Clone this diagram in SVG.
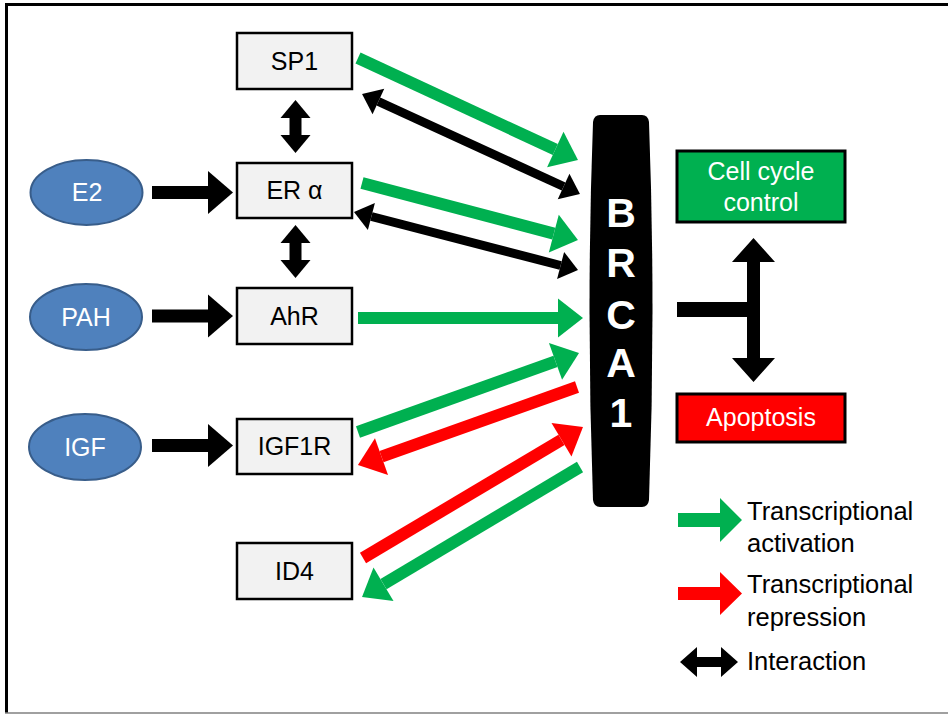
<svg xmlns="http://www.w3.org/2000/svg" width="948" height="715" viewBox="0 0 948 715">
<style>
text{font-family:"Liberation Sans",Arial,sans-serif;font-size:25px}
.box{fill:#F2F2F2;stroke:#000;stroke-width:2.5}
.ell{fill:#4F81BD;stroke:#385D8A;stroke-width:2}
.lbl{fill:#000;text-anchor:middle}
.wl{fill:#fff;text-anchor:middle}
.g{stroke:#00B050;stroke-width:12;fill:none;marker-end:url(#hg)}
.r{stroke:#FF0000;stroke-width:12;fill:none;marker-end:url(#hr)}
.k{stroke:#000;stroke-width:9;fill:none;marker-end:url(#hk);marker-start:url(#hk)}
.kv{stroke:#000;stroke-width:12;fill:none;marker-end:url(#hkv);marker-start:url(#hkv)}
.kin{stroke:#000;stroke-width:13;fill:none;marker-end:url(#hkin)}
.leg{fill:#000;font-size:25.5px}
</style>
<defs>
<marker id="hg" markerUnits="userSpaceOnUse" orient="auto" refX="0" refY="0" viewBox="0 -20 26 40" markerWidth="26" markerHeight="40" overflow="visible"><path d="M0,-19.5 L25,0 L0,19.5 Z" fill="#00B050"/></marker>
<marker id="hr" markerUnits="userSpaceOnUse" orient="auto" refX="0" refY="0" viewBox="0 -20 26 40" markerWidth="26" markerHeight="40" overflow="visible"><path d="M0,-19.5 L25,0 L0,19.5 Z" fill="#FF0000"/></marker>
<marker id="hk" markerUnits="userSpaceOnUse" orient="auto-start-reverse" refX="0" refY="0" viewBox="0 -15 19 30" markerWidth="19" markerHeight="30" overflow="visible"><path d="M0,-14 L18,0 L0,14 Z" fill="#000"/></marker>
<marker id="hkv" markerUnits="userSpaceOnUse" orient="auto-start-reverse" refX="0" refY="0" viewBox="0 -16 19 32" markerWidth="19" markerHeight="32" overflow="visible"><path d="M0,-15 L18,0 L0,15 Z" fill="#000"/></marker>
<marker id="hkin" markerUnits="userSpaceOnUse" orient="auto" refX="0" refY="0" viewBox="0 -22 26 44" markerWidth="26" markerHeight="44" overflow="visible"><path d="M0,-21.5 L25,0 L0,21.5 Z" fill="#000"/></marker>
</defs>
<rect x="0" y="0" width="948" height="715" fill="#fff"/>
<g id="frame">
<line x1="6.5" y1="3" x2="6.5" y2="713" stroke="#000" stroke-width="3"/>
<line x1="5" y1="4.5" x2="948" y2="4.5" stroke="#000" stroke-width="3"/>
<line x1="5" y1="713" x2="948" y2="713" stroke="#808080" stroke-width="1.5"/>
</g>
<g id="connectors">
<line class="kin" x1="152" y1="192.5" x2="208" y2="192.5"/>
<line class="kin" x1="152" y1="316" x2="208" y2="316"/>
<line class="kin" x1="152" y1="445.5" x2="208" y2="445.5"/>
<line class="kv" x1="295.5" y1="118" x2="295.5" y2="135"/>
<line class="kv" x1="295.5" y1="243" x2="295.5" y2="260"/>
<line class="g" x1="358" y1="58" x2="555.3" y2="149.5"/>
<line class="k" x1="378.4" y1="101.5" x2="563.6" y2="186.5"/>
<line class="g" x1="362" y1="183" x2="553.8" y2="233.6"/>
<line class="k" x1="371.4" y1="216.5" x2="560.6" y2="265.5"/>
<line class="g" x1="358" y1="318" x2="558" y2="318"/>
<line class="g" x1="358" y1="432" x2="555.5" y2="361.4"/>
<line class="r" x1="577" y1="387" x2="381.5" y2="456.6"/>
<line class="r" x1="363" y1="558" x2="561.5" y2="439.8"/>
<line class="g" x1="580" y1="467" x2="383.5" y2="584.2"/>
<path d="M677,302 H747 V262 H732 L753.5,238 L775,262 H760 V358 H775 L753.5,382 L732,358 H747 V317 H677 Z" fill="#000"/>
</g>
<g id="E2"><ellipse class="ell" cx="86.5" cy="192.5" rx="56" ry="32.5"/><text class="wl" x="87" y="201">E2</text></g>
<g id="PAH"><ellipse class="ell" cx="86" cy="317" rx="56" ry="33"/><text class="wl" x="86" y="326">PAH</text></g>
<g id="IGF"><ellipse class="ell" cx="85" cy="447" rx="56" ry="33"/><text class="wl" x="85" y="456">IGF</text></g>
<g id="SP1"><rect class="box" x="237" y="33" width="115" height="56"/><text class="lbl" x="294.5" y="70">SP1</text></g>
<g id="ERa"><rect class="box" x="237" y="163" width="115" height="55"/><text class="lbl" x="294.5" y="199">ER α</text></g>
<g id="AhR"><rect class="box" x="237" y="288" width="115" height="56"/><text class="lbl" x="294.5" y="325">AhR</text></g>
<g id="IGF1R"><rect class="box" x="237" y="419" width="115" height="55"/><text class="lbl" x="294.5" y="455">IGF1R</text></g>
<g id="ID4"><rect class="box" x="237" y="543" width="115" height="56"/><text class="lbl" x="294.5" y="580">ID4</text></g>
<g id="BRCA1">
<path d="M600,115 L642,115 Q648,115 649,122 Q656,311 649,500 Q648,507 642,507 L600,507 Q594,507 593,500 Q586,311 593,122 Q594,115 600,115 Z" fill="#000"/>
<g style="font-weight:bold;fill:#fff;text-anchor:middle">
<text x="621" y="227" style="font-size:41px">B</text>
<text x="621" y="277" style="font-size:41px">R</text>
<text x="621" y="329" style="font-size:41px">C</text>
<text x="621" y="377" style="font-size:41px">A</text>
<text x="621" y="427" style="font-size:41px">1</text>
</g>
</g>
<g id="CellCycle"><rect x="677" y="151" width="168" height="71" fill="#00B050" stroke="#000" stroke-width="3"/><text class="wl" x="761" y="180">Cell cycle</text><text class="wl" x="761" y="211">control</text></g>
<g id="Apoptosis"><rect x="677" y="394" width="168" height="48" fill="#FF0000" stroke="#000" stroke-width="3"/><text class="wl" x="761" y="426">Apoptosis</text></g>
<g id="legend">
<path d="M678,513 H720 V498 L742,520 L720,542 V527 H678 Z" fill="#00B050"/>
<text class="leg" x="747" y="520">Transcriptional</text>
<text class="leg" x="747" y="552">activation</text>
<path d="M678,587 H720 V572 L742,593.5 L720,615 V600 H678 Z" fill="#FF0000"/>
<text class="leg" x="747" y="593">Transcriptional</text>
<text class="leg" x="747" y="626">repression</text>
<path d="M680,662 L697,647 V657 H721 V647 L738,662 L721,677 V667 H697 V677 Z" fill="#000"/>
<text class="leg" x="747" y="670">Interaction</text>
</g>
</svg>
